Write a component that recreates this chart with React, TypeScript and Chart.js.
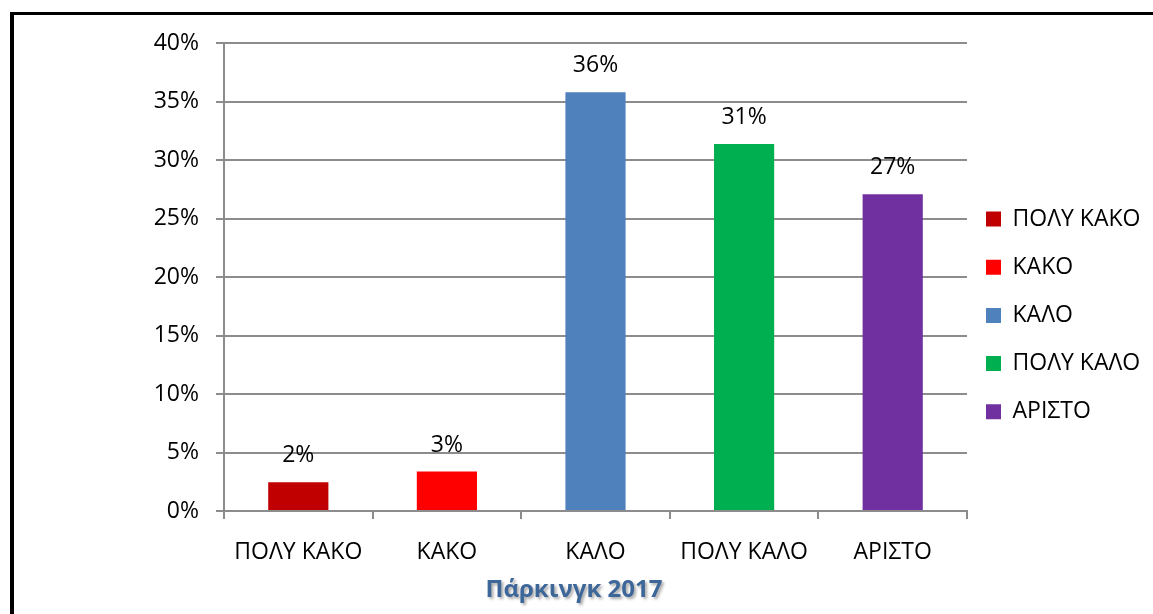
import { useEffect, useRef } from 'react';
import { Chart, registerables } from 'chart.js';

Chart.register(...registerables);

// Survey answers (share of respondents, %)
const categories = ['ΠΟΛΥ ΚΑΚΟ', 'ΚΑΚΟ', 'ΚΑΛΟ', 'ΠΟΛΥ ΚΑΛΟ', 'ΑΡΙΣΤΟ'];
const shares = [2.46, 3.37, 35.8, 31.37, 27.07];
const barColors = ['#C00000', '#FF0000', '#4F81BD', '#00B050', '#7030A0'];
const yMin = 0;
const yMax = 40;
const yStep = 5;
const chartTitle = 'Πάρκινγκ 2017';

const FONT = "'Open Sans', 'Noto Sans', sans-serif";
const FONT_SIZE = 23;
const GRID = '#8c8c8c';
const LEGEND_PAD = 25.2;
const SWATCH_GAP = 19;
const LEGEND_SHIFT_Y = 38.4;
const TITLE_SHIFT_X = -9.5;

// Percent labels above each bar
const valueLabels = {
  id: 'valueLabels',
  afterDatasetsDraw(chart: any) {
    const ctx = chart.ctx;
    const meta = chart.getDatasetMeta(0);
    const data = chart.data.datasets[0].data as number[];
    ctx.save();
    ctx.font = `${FONT_SIZE}px ${FONT}`;
    ctx.fillStyle = '#000';
    ctx.textAlign = 'center';
    ctx.textBaseline = 'middle';
    meta.data.forEach((el: any, i: number) => {
      ctx.fillText(`${Math.round(data[i])}%`, el.x, el.y - 26.5);
    });
    ctx.restore();
  },
};

// Places the legend beside the plot and gives the title its shadow
const boxPlacement = {
  id: 'boxPlacement',
  afterLayout(chart: any) {
    const lg = chart.legend;
    if (lg) {
      const dx = chart.chartArea.right + SWATCH_GAP - LEGEND_PAD - lg.left;
      lg.left += dx;
      lg.right += dx;
      lg.top += LEGEND_SHIFT_Y;
      lg.bottom += LEGEND_SHIFT_Y;
    }
    const tb = chart.titleBlock;
    if (tb) {
      tb.left += TITLE_SHIFT_X;
      tb.right += TITLE_SHIFT_X;
      if (!tb.__shadowed) {
        const draw = tb.draw.bind(tb);
        tb.draw = (...args: any[]) => {
          const c = chart.ctx;
          c.save();
          c.shadowColor = 'rgba(0,0,0,0.35)';
          c.shadowBlur = 3;
          c.shadowOffsetX = 2;
          c.shadowOffsetY = 2;
          draw(...args);
          c.restore();
        };
        tb.__shadowed = true;
      }
    }
  },
};

export default function App() {
  const canvasRef = useRef<HTMLCanvasElement | null>(null);

  useEffect(() => {
    if (!canvasRef.current) return;
    const chart = new Chart(canvasRef.current, {
      type: 'bar',
      data: {
        labels: categories,
        datasets: [
          {
            data: shares,
            backgroundColor: barColors,
            borderWidth: 0,
            categoryPercentage: 0.81,
            barPercentage: 0.5,
          },
        ],
      },
      plugins: [valueLabels, boxPlacement],
      options: {
        responsive: false,
        animation: false,
        devicePixelRatio: 1,
        layout: { padding: { left: 20, top: 43, right: 6, bottom: 0 } },
        font: { family: FONT, size: FONT_SIZE },
        color: '#000',
        plugins: {
          tooltip: { enabled: false },
          title: {
            display: true,
            text: chartTitle,
            position: 'bottom',
            color: '#3D6699',
            font: { family: FONT, size: 24, weight: 'bold', lineHeight: 1.2 },
            padding: { top: 0, bottom: 9.6 },
          },
          legend: {
            display: true,
            position: 'right',
            align: 'center',
            fullSize: false,
            maxWidth: 180,
            labels: {
              color: '#000',
              font: { family: FONT, size: FONT_SIZE },
              boxWidth: 15,
              boxHeight: 15,
              padding: LEGEND_PAD,
              generateLabels: () =>
                categories.map((c, i) => ({
                  text: c,
                  fillStyle: barColors[i],
                  strokeStyle: barColors[i],
                  lineWidth: 0,
                  hidden: false,
                  index: i,
                  datasetIndex: 0,
                })),
            },
          },
        },
        scales: {
          x: {
            offset: true,
            grid: {
              offset: true,
              drawOnChartArea: false,
              drawTicks: true,
              tickLength: 8,
              color: GRID,
              lineWidth: 2,
            },
            border: { display: true, color: GRID, width: 2 },
            ticks: {
              color: '#000',
              font: { family: FONT, size: FONT_SIZE },
              padding: 20,
              maxRotation: 0,
              autoSkip: false,
            },
            afterFit: (scale: any) => {
              scale.height = 64.6;
            },
          },
          y: {
            min: yMin,
            max: yMax,
            grid: {
              drawTicks: true,
              tickLength: 8,
              color: GRID,
              lineWidth: 2,
            },
            border: { display: true, color: GRID, width: 2 },
            ticks: {
              stepSize: yStep,
              color: '#000',
              font: { family: FONT, size: FONT_SIZE },
              padding: 17,
              callback: (v: any) => `${v}%`,
            },
            afterFit: (scale: any) => {
              scale.width = 204;
            },
          },
        },
      },
    });
    return () => chart.destroy();
  }, []);

  return (
    <div
      style={{
        position: 'fixed',
        left: 0,
        top: 0,
        width: 1153,
        height: 614,
        background: '#fff',
        overflow: 'hidden',
      }}
    >
      <div
        style={{
          position: 'absolute',
          left: 10,
          top: 12,
          width: 1200,
          height: 700,
          borderLeft: '4px solid #000',
          borderTop: '3px solid #000',
        }}
      />
      <canvas
        ref={canvasRef}
        width={1153}
        height={614}
        style={{ position: 'absolute', left: 0, top: 0 }}
      />
    </div>
  );
}
